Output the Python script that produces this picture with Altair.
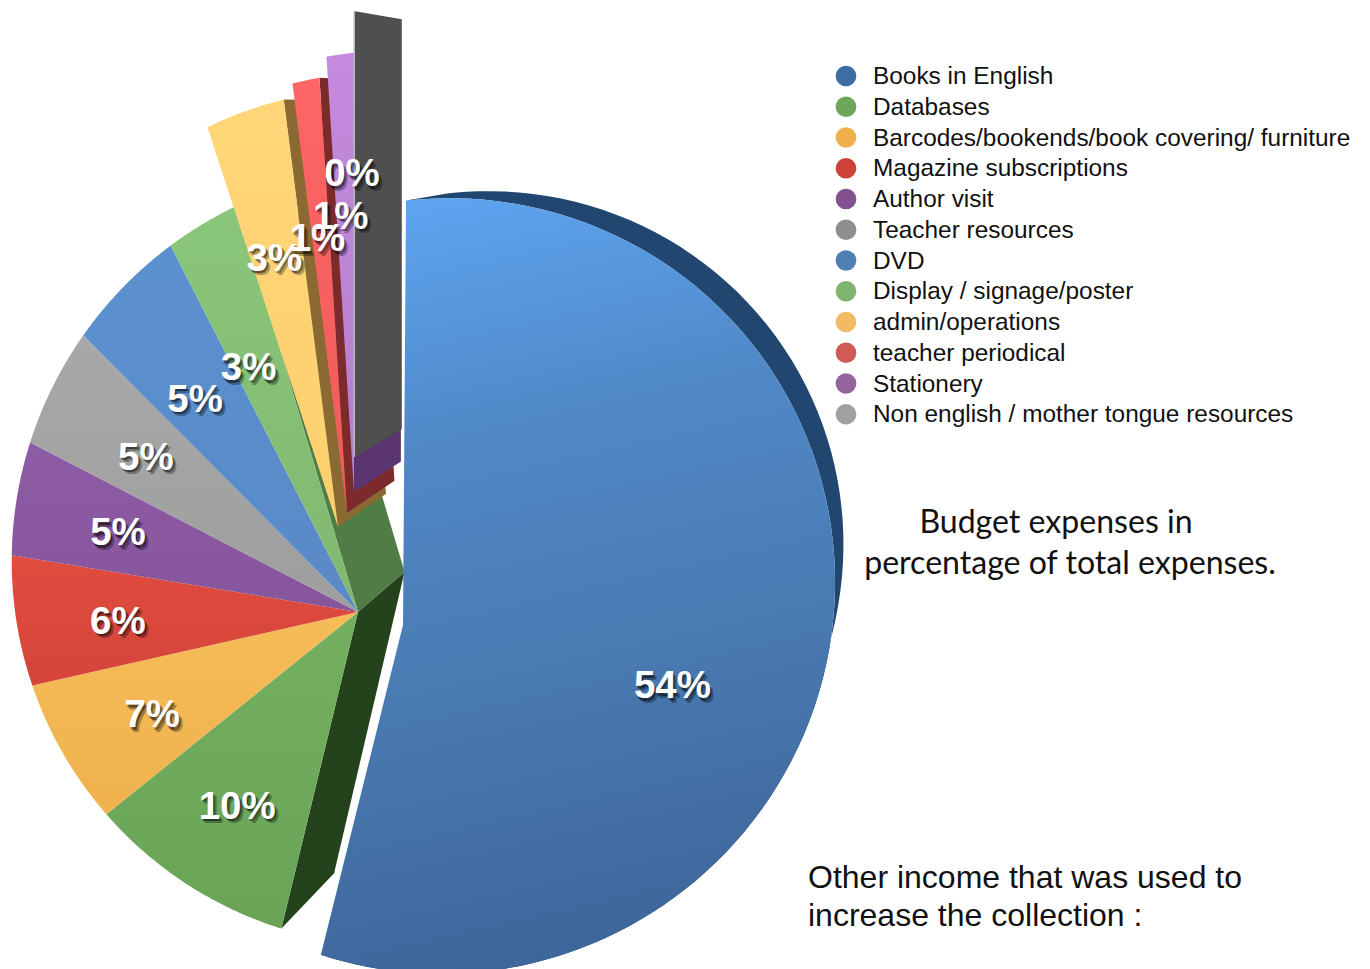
import math
import altair as alt

# Budget shares, in percent, clockwise from twelve o'clock
categories = [
    "Books in English", "Databases", "Barcodes/bookends/book covering/ furniture",
    "Magazine subscriptions", "Author visit", "Teacher resources", "DVD",
    "Display / signage/poster", "admin/operations", "teacher periodical",
    "Stationery", "Non english / mother tongue resources",
]
shares = [54, 10, 7, 6, 5, 5, 5, 3, 3, 1, 1, 0]

legend_colors = ["#3e6da3", "#6ea65c", "#efb04c", "#cd4138", "#83518f", "#8e8e8e",
                 "#507fb4", "#80b46f", "#f1bb66", "#d25a55", "#95649f", "#a0a0a0"]
# Top and bottom stops of each slice's face
face_top = ["#5da2ec", "#74b060", "#f5bc58", "#e04c3e", "#8d5ca6", "#a8a8a8",
            "#5b90cf", "#8ac67a", "#ffd679", "#ff6666", "#c48ade", "#555555"]
face_bottom = ["#3d6599", "#6aa356", "#efb24e", "#d5453a", "#86559a", "#9e9e9e",
               "#5a8ac6", "#80b86f", "#fdcf6e", "#ee5a5a", "#b47fcb", "#505050"]
wall_colors = ["#21466f", "#24421b", None, None, None, None,
               None, "#507d45", "#8a6a32", "#7c2a2c", "#5a3570", "#4f4f4f"]

# Perspective of the tilted disc
F, G, K, H = 384, 382, 0.1, 0.1
BODY_LENS = (384, 383, 0.11, 0.09)
VANISH = (940, 110)
DEPTH = 0.08

# Per-slice placement: wedge tip, rim shift and rim scale
BODY = ((358, 612), (8, -12), 1.0)
PLACEMENT = {
    0: ((403, 625), (3, 0), 1.0),
    8: ((338, 527), (0, 0), 1.03),
    9: ((347, 513), (0, 0), 1.035),
    10: ((354, 492), (0, 0), 1.035),
    11: ((355, 457), (0, 0), 1.05),
}
LABEL_FRACTION = 0.67
LABEL_NUDGE = {
    0: (-10, 26), 1: (0, 5), 2: (-3, 0), 3: (-6, -5), 4: (-6, -11), 5: (-2, -12),
    6: (0, -3), 7: (0, 8), 8: (-1, 10), 9: (-2, 16), 10: (-4, 18), 11: (-3, 16),
}
LABEL_SIZE = 38.5
LEGEND_TOP, LEGEND_STEP = 76, 30.75


def project(pct, lens):
    f, g, k, h = lens
    a = math.radians(pct * 3.6)
    x, y = math.sin(a), math.cos(a)
    w = 1 - k * y - h * x
    return f * x / w, -g * y / w


def lens_of(i):
    return BODY_LENS if i not in PLACEMENT else (F, G, K, H)


def rim_point(i, pct):
    tip, shift, scale = PLACEMENT.get(i, BODY)
    px, py = project(pct, lens_of(i))
    return tip[0] + shift[0] + scale * px, tip[1] + shift[1] + scale * py


def extrude(p):
    # The side walls recede toward one vanishing point, flattening near the bottom
    flatten = 0.0001 * (p[1] - 612) ** 2 if p[1] > 612 else 0
    return p[0] + DEPTH * (VANISH[0] - p[0]), p[1] + DEPTH * (VANISH[1] - p[1]) + flatten


def feature(points):
    ring = [list(p) for p in points]
    ring.append(ring[0])
    return {"type": "Feature", "properties": {}, "geometry": {"type": "Polygon", "coordinates": [ring]}}


def shape(points, fill):
    return alt.Chart(alt.Data(values=[feature(points)])).mark_geoshape(
        fill=fill, stroke=None
    ).project(type="identity", scale=1, translate=[0, 0])


def gradient(top, bottom):
    return alt.LinearGradient(
        gradient="linear", x1=0, x2=0, y1=0, y2=1,
        stops=[alt.GradientStop(color=top, offset=0), alt.GradientStop(color=bottom, offset=1)],
    )


starts = [sum(shares[:i]) for i in range(len(shares))]
ends = [s + v for s, v in zip(starts, shares)]


def arc_points(i, n=48):
    return [rim_point(i, starts[i] + (ends[i] - starts[i]) * k / n) for k in range(n + 1)]


def edge_wall(i, pct):
    tip = PLACEMENT.get(i, BODY)[0]
    rim = rim_point(i, pct)
    return [tip, rim, extrude(rim), extrude(tip)]


layers = []

# Main disc: outer side walls first, then the flat faces
layers.append(shape(edge_wall(1, starts[1]), wall_colors[1]))
layers.append(shape(edge_wall(7, ends[7]), wall_colors[7]))
for i in range(1, 8):
    layers.append(shape([BODY[0]] + arc_points(i), gradient(face_top[i], face_bottom[i])))

# Pulled-out slices, each covering the wall of the one before it
for i in (8, 9, 10, 11):
    layers.append(shape(edge_wall(i, ends[i]), wall_colors[i]))
    layers.append(shape([PLACEMENT[i][0]] + arc_points(i), gradient(face_top[i], face_bottom[i])))
zero_rim = rim_point(11, 100)
layers.append(shape(
    [PLACEMENT[11][0], (PLACEMENT[11][0][0] - 1.5, PLACEMENT[11][0][1]),
     (zero_rim[0] - 1.5, zero_rim[1]), zero_rim], "#b9b9b9"))

# Largest slice with its curved wall
arc0 = arc_points(0, 96)
layers.append(shape(arc0 + [extrude(p) for p in reversed(arc0)], wall_colors[0]))
layers.append(shape(
    [PLACEMENT[0][0]] + arc0,
    alt.LinearGradient(
        gradient="linear", x1=0.3, x2=0.45, y1=0, y2=1,
        stops=[
            alt.GradientStop(color="#5da3ee", offset=0),
            alt.GradientStop(color="#5088c6", offset=0.3),
            alt.GradientStop(color="#4a7bb3", offset=0.6),
            alt.GradientStop(color="#3d6599", offset=1),
        ],
    ),
))

# Percentage labels with a dark drop shadow
label_rows = []
for i, v in enumerate(shares):
    tip, shift, scale = PLACEMENT.get(i, BODY)
    px, py = project((starts[i] + ends[i]) / 2, lens_of(i))
    nx, ny = LABEL_NUDGE.get(i, (0, 0))
    label_rows.append({
        "label": f"{v}%",
        "lx": tip[0] + LABEL_FRACTION * scale * px + nx,
        "ly": tip[1] + LABEL_FRACTION * scale * py + ny,
    })

pixel_x = alt.X("lx:Q", scale=alt.Scale(domain=[0, 1370], range=[0, 1370]), axis=None)
pixel_y = alt.Y("ly:Q", scale=alt.Scale(domain=[0, 969], range=[0, 969]), axis=None)
label_data = alt.Data(values=label_rows)
for dx, dy, op in ((3.5, 4.5, 0.3), (1.5, 2.5, 0.45)):
    layers.append(alt.Chart(label_data).mark_text(
        font="Liberation Sans", fontWeight="bold", fontSize=LABEL_SIZE, color="#000000",
        opacity=op, dx=dx, dy=dy, align="center", baseline="middle",
    ).encode(x=pixel_x, y=pixel_y, text="label:N"))
layers.append(alt.Chart(label_data).mark_text(
    font="Liberation Sans", fontWeight="bold", fontSize=LABEL_SIZE, color="#ffffff",
    align="center", baseline="middle",
).encode(x=pixel_x, y=pixel_y, text="label:N"))

# Legend column
legend_rows = [
    {"ly": LEGEND_TOP + i * LEGEND_STEP, "name": n, "swatch": c}
    for i, (n, c) in enumerate(zip(categories, legend_colors))
]
legend_data = alt.Data(values=legend_rows)
layers.append(alt.Chart(legend_data).mark_circle(size=430, opacity=1).encode(
    x=alt.value(846), y=pixel_y, color=alt.Color("swatch:N", scale=None, legend=None)))
layers.append(alt.Chart(legend_data).mark_text(
    font="Liberation Sans", fontSize=24.4, color="#111111", align="left", baseline="middle", dy=1,
).encode(x=alt.value(873), y=pixel_y, text="name:N"))

# Free-standing captions
caption_rows = [
    {"t": "Budget expenses in", "lx": 1056, "ly": 523},
    {"t": "percentage of total expenses.", "lx": 1070, "ly": 564},
]
note_rows = [
    {"t": "Other income that was used to", "lx": 808, "ly": 878},
    {"t": "increase the collection :", "lx": 808, "ly": 916},
]
layers.append(alt.Chart(alt.Data(values=caption_rows)).mark_text(
    font="Lato", fontSize=32.1, color="#111111", align="center", baseline="middle",
).encode(x=pixel_x, y=pixel_y, text="t:N"))
layers.append(alt.Chart(alt.Data(values=note_rows)).mark_text(
    font="Liberation Sans", fontSize=32, color="#111111", align="left", baseline="middle",
).encode(x=pixel_x, y=pixel_y, text="t:N"))

chart = alt.layer(*layers).properties(
    width=1370, height=969, padding=0,
    autosize=alt.AutoSizeParams(type="none"),
).configure_view(stroke=None)

chart.save("out.html", embed_options={"renderer": "svg", "actions": False})
